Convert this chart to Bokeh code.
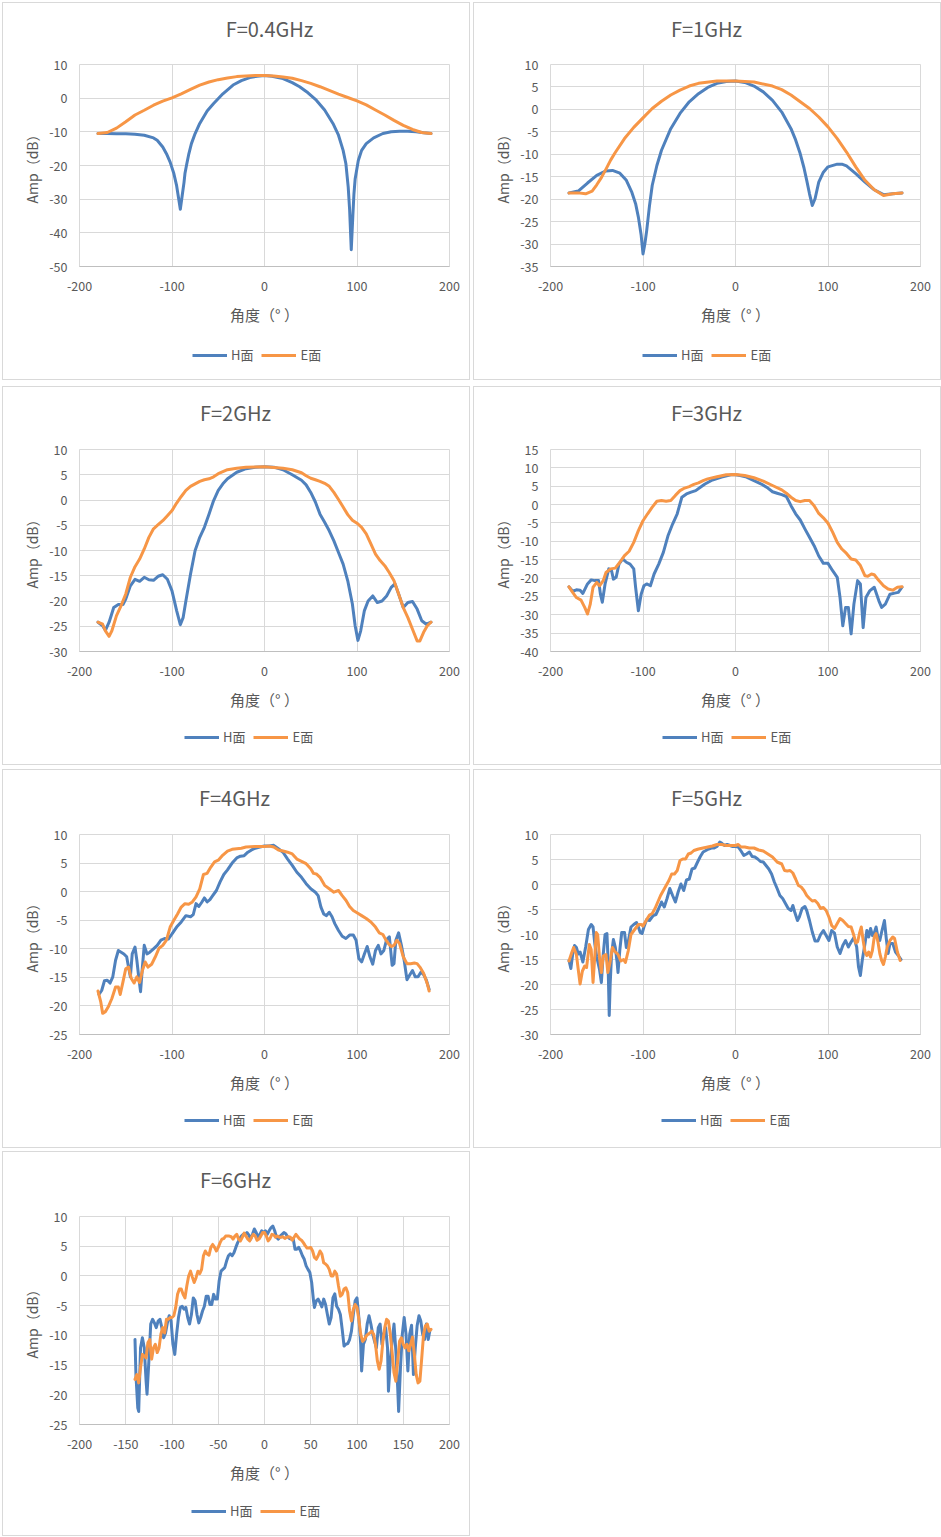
from bokeh.plotting import figure
from bokeh.layouts import column, row
from bokeh.models import Legend, LegendItem, FixedTicker, Range1d, Spacer, Label
from bokeh.embed import file_html
from bokeh.resources import INLINE

# F = 0.4 GHz
ang1h = [-180,-170,-160,-150,-140,-130,-120,-116,-110,-106,-102,-98,-95,-93,-91,-89,-87,-86,-84,-82,
         -79,-75,-70,-62,-55,-45,-34,-25,-16,-8,0,8,20,30,38,47,56,65,74,80,
         85,88,90.5,92,93.8,95.5,96.7,98,101.4,105,110,118,128,137,146,155,164,172,180]
amp1h = [-10.5,-10.5,-10.6,-10.6,-10.7,-11.0,-11.8,-12.5,-14.5,-16.5,-19.0,-22.4,-26.0,-29.5,-33.0,-29.0,-25.0,-22.4,-19.5,-16.8,
         -13.5,-10.5,-7.5,-3.8,-1.6,1.3,3.9,5.2,6.1,6.5,6.7,6.5,5.8,4.6,3.4,1.6,-0.6,-3.5,-7.5,-11.0,
         -15.5,-19.5,-26.4,-33.0,-45.0,-35.0,-28.4,-24.0,-18.5,-15.5,-13.5,-11.8,-10.5,-10.0,-9.8,-9.8,-10.0,-10.3,-10.5]
ang1e = [-180,-170,-160,-150,-140,-130,-120,-110,-100,-90,-80,-70,-60,-50,-40,-30,-20,-10,0,
         10,20,30,40,50,60,70,80,90,100,110,120,130,140,150,160,170,180]
amp1e = [-10.5,-10.2,-8.9,-7.0,-5.0,-3.6,-2.1,-0.9,0.1,1.3,2.6,3.85,4.8,5.5,6.0,6.4,6.6,6.7,6.7,
         6.6,6.3,5.9,5.2,4.4,3.4,2.3,1.2,0.2,-0.8,-2.0,-3.5,-5.0,-6.6,-8.1,-9.3,-10.2,-10.5]

# F = 1 GHz
ang2h = [-180,-170,-160,-150,-140,-133,-125,-118,-112,-108,-105,-102,-100,-98,-96,-93,-90,-85,-80,-70,
         -60,-50,-40,-30,-20,-10,0,10,20,30,40,50,60,65,70,74,77,80,83,86,
         90,95,100,110,115,120,130,140,150,160,170,180]
amp2h = [-18.6,-18.2,-16.4,-14.7,-13.7,-13.6,-14.2,-15.8,-18.5,-21.0,-24.0,-28.0,-32.2,-30.0,-27.0,-21.5,-16.9,-12.5,-9.1,-4.3,
         -0.9,1.7,3.5,4.9,5.8,6.2,6.3,6.0,5.2,3.9,2.0,-0.6,-4.3,-6.8,-9.9,-13.0,-15.8,-18.8,-21.4,-19.9,
         -16.2,-14.0,-12.8,-12.2,-12.2,-12.6,-14.3,-16.2,-17.9,-19.0,-18.8,-18.6]
ang2e = [-180,-170,-162,-155,-150,-145,-140,-135,-130,-120,-110,-100,-90,-80,-70,-60,-50,-40,-20,0,
         20,40,50,60,70,80,90,100,110,120,130,140,150,160,170,180]
amp2e = [-18.6,-18.6,-18.8,-18.2,-16.8,-15.2,-13.3,-11.3,-9.6,-6.5,-4.0,-1.9,0.2,1.8,3.2,4.3,5.2,5.8,6.3,6.35,
         6.1,5.2,4.4,3.2,1.7,0.2,-1.7,-3.9,-6.5,-9.5,-12.8,-15.8,-17.9,-19.2,-18.8,-18.6]

# F = 2 GHz
ang3h = [-180,-175,-172,-168,-163,-158,-153,-150,-145,-140,-135,-130,-125,-120,-115,-110,-105,-100,-95,-91,
         -88,-85,-80,-75,-70,-65,-60,-55,-50,-45,-40,-30,-20,-10,0,10,20,30,40,45,
         50,55,60,65,70,75,80,85,90,95,98,101,104,108,112,117,122,127,132,137,
         141,145,150,155,160,165,170,175,180]
amp3h = [-24.2,-24.9,-25.8,-24.2,-21.3,-20.7,-20.7,-19.6,-17.0,-15.7,-16.1,-15.3,-15.8,-15.9,-15.1,-14.8,-15.7,-18.0,-21.9,-24.7,
         -23.3,-20.0,-14.7,-10.0,-7.4,-5.4,-2.8,-0.1,1.9,3.2,4.2,5.5,6.2,6.5,6.6,6.5,6.0,5.0,3.9,3.0,
         1.5,-0.4,-2.8,-4.4,-6.1,-8.1,-10.4,-12.7,-16.0,-20.6,-24.9,-27.8,-25.9,-21.9,-20.0,-19.0,-20.3,-20.0,-19.0,-17.3,
         -16.6,-18.6,-21.3,-20.3,-20.1,-21.6,-23.9,-24.6,-24.2]
ang3e = [-180,-175,-172,-168,-165,-160,-155,-150,-145,-140,-135,-130,-125,-120,-115,-110,-105,-100,-95,-90,
         -85,-80,-75,-70,-65,-60,-55,-50,-45,-40,-30,-20,0,20,30,40,45,50,55,60,
         65,70,75,80,85,90,95,100,105,110,115,120,125,130,135,140,145,150,155,160,
         165,168,172,176,180]
amp3e = [-24.2,-24.6,-25.9,-27.0,-25.9,-22.9,-20.9,-18.6,-15.3,-13.2,-11.7,-9.7,-7.4,-5.7,-4.9,-4.1,-3.1,-2.1,-0.6,0.7,
         1.9,2.7,3.2,3.7,4.0,4.2,4.6,5.2,5.6,6.0,6.3,6.5,6.6,6.3,6.0,5.4,4.8,4.3,4.0,3.7,
         3.3,2.7,1.5,0.1,-1.4,-2.9,-4.0,-4.6,-5.4,-6.7,-8.7,-10.7,-12.0,-13.0,-14.4,-16.0,-18.6,-21.3,-23.3,-25.6,
         -27.9,-27.9,-26.2,-24.9,-24.2]

# F = 3 GHz
ang4h = [-180,-176,-172,-168,-165,-160,-156,-152,-148,-146,-144,-141,-137,-134,-132,-129,-126,-122,-118,-114,
         -110,-108,-105,-102,-99,-96,-92,-88,-83,-78,-73,-68,-63,-58,-53,-48,-43,-38,-33,-25,
         -15,-5,0,5,12,20,28,35,40,45,50,55,60,65,70,75,80,85,90,95,
         100,105,110,113,116,119,122,125,128,132,135,138,141,145,150,155,158,162,167,172,176,180]
amp4h = [-22.4,-23.6,-23.2,-23.3,-24.2,-21.6,-20.5,-20.7,-20.7,-24.4,-26.6,-21.6,-17.5,-18.0,-20.3,-19.8,-16.2,-14.8,-15.7,-16.2,
         -17.5,-22.5,-28.9,-24.4,-22.1,-21.6,-22.1,-18.9,-16.2,-13.0,-8.5,-5.3,-2.5,2.0,2.9,3.4,3.8,4.7,5.6,6.7,
         7.5,8.1,8.1,7.9,7.5,6.5,5.6,4.5,3.5,3.1,2.7,2.2,-0.3,-2.5,-4.2,-6.6,-8.9,-11.2,-14.0,-16.0,
         -16.0,-18.0,-19.8,-25.3,-33.0,-28.0,-28.0,-35.2,-27.1,-20.7,-21.6,-33.5,-25.3,-23.5,-22.5,-26.2,-28.0,-27.1,-24.4,-24.1,-23.9,-22.5]
ang4e = [-180,-176,-172,-167,-163,-160,-157,-154,-150,-147,-143,-140,-135,-130,-125,-120,-115,-110,-105,-100,
         -95,-90,-85,-80,-75,-70,-65,-60,-55,-50,-45,-40,-35,-30,-20,-10,0,10,20,30,
         40,50,55,60,65,70,75,80,85,90,95,100,105,110,115,120,125,130,135,140,
         143,147,150,155,160,165,170,175,180]
amp4e = [-22.4,-23.9,-25.3,-26.0,-28.0,-29.8,-27.1,-22.5,-21.2,-22.1,-20.7,-18.5,-17.5,-17.3,-15.7,-13.9,-12.7,-10.3,-7.1,-4.4,
         -2.5,-0.7,0.9,1.1,0.9,1.1,2.5,3.8,4.5,4.9,5.5,5.9,6.5,7.0,7.6,8.1,8.2,7.9,7.3,6.4,
         5.2,4.0,3.1,2.0,1.1,0.8,1.1,1.1,-0.3,-2.4,-3.6,-5.1,-7.5,-10.3,-12.1,-13.3,-14.8,-15.1,-16.6,-19.4,
         -19.5,-18.9,-19.1,-20.7,-22.1,-23.0,-23.3,-22.5,-22.4]

# F = 4 GHz
ang5h = [-179,-176,-173,-170,-167,-164,-161,-158,-155,-152,-149,-147,-145,-143,-140,-138,-136,-134,-132,-130,
         -127,-124,-120,-116,-112,-108,-104,-100,-95,-90,-85,-80,-77,-74,-71,-68,-65,-62,-59,-56,
         -52,-48,-44,-40,-35,-30,-26,-22,-18,-14,-10,-5,0,5,10,15,20,25,30,35,
         40,45,50,55,58,61,64,67,70,73,76,80,84,88,92,96,99,102,105,108,
         111,114,117,120,123,126,129,132,135,138,140,142,145,148,151,154,157,160,163,166,
         169,172,175,178]
amp5h = [-18.0,-17.3,-15.6,-15.5,-16.0,-14.9,-12.0,-10.3,-10.6,-10.9,-11.4,-13.2,-14.9,-10.9,-9.7,-12.0,-14.9,-17.5,-13.2,-9.4,
         -10.9,-10.6,-10.0,-9.4,-8.5,-8.2,-8.3,-7.4,-6.2,-5.3,-4.2,-4.4,-4.0,-2.1,-2.6,-1.9,-1.1,-1.8,-1.4,-0.7,
         0.2,1.7,3.0,3.8,5.0,5.9,6.2,6.3,6.9,7.3,7.6,7.8,8.0,8.0,8.1,7.5,6.9,5.7,4.6,3.4,
         2.5,1.4,0.5,-0.1,-0.7,-2.7,-3.9,-4.2,-3.6,-4.4,-5.6,-6.8,-7.8,-8.2,-7.6,-7.6,-8.5,-11.7,-12.3,-10.9,
         -9.6,-11.4,-12.7,-10.3,-9.4,-10.9,-10.3,-8.4,-7.9,-12.9,-12.6,-8.5,-7.2,-9.4,-12.0,-15.4,-14.6,-13.8,-14.9,-14.9,
         -14.1,-14.5,-15.5,-17.1]
ang5e = [-180,-177,-175,-172,-169,-165,-161,-158,-156,-153,-150,-147,-144,-141,-138,-135,-132,-129,-126,-122,
         -118,-114,-110,-106,-102,-98,-94,-90,-86,-82,-78,-74,-70,-66,-62,-58,-54,-50,-45,-40,
         -35,-30,-25,-20,-10,0,5,10,15,20,25,30,35,40,45,50,53,56,60,65,
         70,75,80,84,88,92,96,100,105,110,115,120,124,128,131,134,137,140,143,146,
         150,154,158,162,165,168,172,176,178]
amp5e = [-17.4,-19.3,-21.3,-21.0,-20.2,-18.7,-16.7,-16.7,-18.0,-15.8,-13.5,-13.2,-15.2,-16.0,-14.9,-15.9,-13.8,-12.3,-13.2,-12.7,
         -11.4,-9.9,-9.4,-8.5,-6.2,-5.0,-3.9,-2.7,-2.1,-2.2,-1.8,-0.9,0.5,3.0,3.2,4.3,5.2,5.5,6.4,7.1,
         7.4,7.5,7.6,7.8,7.9,7.9,8.0,7.8,7.3,7.1,6.9,6.6,5.7,5.3,4.9,4.0,3.2,3.1,2.5,1.1,
         0.5,-0.1,0.2,-0.7,-1.5,-2.6,-3.3,-3.7,-4.2,-4.7,-5.3,-6.2,-7.2,-7.5,-8.4,-9.1,-9.6,-9.4,-8.5,-9.1,
         -11.4,-12.6,-12.6,-12.5,-12.6,-13.2,-14.3,-16.1,-17.4]

# F = 5 GHz
ang6h = [-180,-178,-176,-174,-172,-170,-168,-165,-162,-159,-156,-154,-152,-150,-147,-145,-143,-141,-139,-138,
         -137,-136.5,-135.5,-134,-132,-130,-128,-127,-125,-123,-120,-118,-116,-113,-110,-107,-105,-103,-101,-99,
         -96,-93,-89,-86,-83,-80,-77,-74,-71,-68,-65,
         -62,-59,-56,-53,-50,-47,-44,-41,-38,-35,-32,-29,-26,-23,-20,-17,-15,-12,-9,-6,
         -3,0,3,6,9,12,15,18,21,24,27,30,33,36,39,42,45,48,51,54,
         57,60,62,64,67,69,72,75,77,80,83,86,89,92,95,98,101,104,107,110,
         113,116,119,122,125,128,131,133,135,137,140,142,144,146,148,150,152,154,156,158,
         161,163,165,167,170,173,176,179]
amp6h = [-15.2,-16.8,-13.9,-12.2,-12.6,-13.9,-13.5,-15.5,-12.5,-9.0,-8.0,-8.5,-12.0,-14.5,-17.0,-19.6,-14.0,-10.0,-9.8,-14.0,
         -22.0,-26.2,-20.0,-14.0,-11.0,-12.5,-15.5,-17.6,-13.0,-9.6,-9.6,-12.6,-11.5,-8.5,-8.0,-7.6,-8.5,-9.6,-9.8,-8.5,
         -7.0,-7.2,-6.2,-6.0,-4.8,-3.5,-4.5,-2.8,-0.8,-2.2,-3.5,
         -1.5,0.1,-1.2,0.9,1.1,3.1,3.3,4.5,5.6,6.5,6.8,7.1,7.3,7.3,7.6,8.5,8.3,7.8,8.0,7.8,
         7.6,7.6,7.5,6.7,5.8,6.1,6.5,5.6,5.5,5.1,4.6,4.5,3.8,3.1,2.1,0.5,-0.8,-2.2,-2.8,-3.8,
         -4.8,-5.2,-4.2,-5.5,-7.2,-6.5,-4.8,-4.4,-5.2,-7.2,-9.5,-11.3,-11.3,-10.0,-9.2,-10.2,-11.2,-9.2,-9.7,-12.5,
         -13.8,-12.2,-11.2,-12.5,-11.5,-10.6,-12.5,-16.5,-18.2,-15.2,-11.8,-9.2,-10.5,-8.8,-10.2,-9.7,-8.5,-10.6,-11.2,-9.5,
         -7.2,-10.8,-13.8,-11.8,-11.8,-13.5,-14.2,-15.0]
ang6e = [-180,-177,-175,-172,-170,-168,-165.5,-163,-161,-158,-156,-154,-152,-150.5,-149,-147,-145,-143,-140,-138,
         -136,-133,-131,-127,-124,-121,-119,-116,-113,-109,-105,-102,-100,-96,-93,-90,-87,
         -84,-81,-78,-75,-72,-69,-66,-63,-60,-57,
         -54,-51,-48,-45,-40,-35,-30,-25,-20,-15,
         -10,-5,0,3,6,10,15,20,25,30,
         35,40,45,50,53,56,59,62,65,68,
         71,74,77,80,83,86,89,92,95,98,
         101,104,107,110,113,116,119,122,125,128,
         130,132,134,136,138,140,142,144,146,148,
         150,152,154,156,158,160,162,164,167,170,
         172,175,178]
amp6e = [-15.3,-13.6,-12.6,-14.0,-17.0,-19.9,-17.3,-16.3,-16.6,-12.0,-13.0,-19.6,-14.0,-9.6,-10.0,-14.6,-17.6,-14.3,-14.0,-17.6,
         -15.9,-12.6,-13.3,-14.0,-15.3,-15.0,-15.6,-13.3,-10.0,-9.0,-8.0,-8.0,-8.3,-7.0,-6.1,-5.8,-4.8,
         -3.5,-2.2,-1.2,-0.2,0.8,2.1,2.1,2.8,4.8,5.1,
         5.1,6.1,6.3,6.8,7.1,7.3,7.5,7.7,8.0,8.0,
         7.8,7.8,7.8,8.0,7.5,7.5,7.3,7.3,6.9,6.7,
         6.1,5.5,4.5,4.1,2.8,2.7,2.8,2.3,1.1,-0.2,
         -0.5,-1.2,-2.2,-2.8,-3.3,-3.2,-3.8,-4.8,-4.6,-5.2,
         -6.5,-8.2,-8.8,-7.8,-6.8,-7.2,-7.8,-8.4,-8.5,-10.2,
         -11.7,-11.5,-9.8,-8.5,-11.2,-13.5,-14.2,-13.5,-14.5,-13.2,
         -10.5,-9.8,-11.5,-13.8,-15.2,-16.0,-14.5,-12.5,-11.2,-10.5,
         -10.8,-13.5,-15.2]

# F = 6 GHz
ang7h = [-140,-139,-137,-136,-134,-132,-130,-128,-127,-125,-123,-121,-119,-117,-115,-113,-111,-109,-107,-105,
         -103,-101,-99,-97,-95,-93,-91,-89,-87,-85,-83,-81,-79,-77,-75,-73,-71,-69,-67,-65,
         -63,-61,-59,-57,-55,-53,-51,-49,-47,-45,-43,-41,-39,-37,-35,-33,-31,-29,-27,-25,
         -23,-21,-19,-17,-15,-13,-11,-9,-7,-5,-3,-1,1,3,5,7,9,11,13,15,
         17,19,21,23,25,27,29,31,33,35,37,39,41,43,45,47,49,51,53,54,
         56,58,60,62,64,66,68,70,72,74,76,78,80,82,84,86,88,90,92,94,
         96,98,100,102,104,105,107,109,111,113,115,117,119,121,123,125,127,129,131,133,
         134,136,138,140,142,144,145,147,149,151,153,155,157,159,161,163,165,167,169,171,
         173,175,177,179]
amp7h = [-10.7,-16.6,-22.2,-22.8,-12.1,-10.4,-12.1,-17.7,-19.9,-14.3,-8.1,-7.3,-7.9,-8.7,-7.6,-7.3,-8.7,-10.4,-9.6,-7.9,
         -6.7,-7.6,-11.5,-13.2,-9.8,-7.0,-5.3,-5.1,-5.6,-5.3,-7.0,-8.1,-6.5,-3.7,-4.2,-6.5,-7.9,-7.0,-5.9,-5.1,
         -3.4,-3.4,-4.8,-4.8,-3.1,-3.9,-3.9,-0.8,0.8,1.1,1.4,2.5,3.4,3.7,3.4,3.9,4.8,5.6,6.2,6.7,
         7.0,7.0,7.3,6.9,6.2,7.0,7.9,7.3,6.6,7.0,7.6,7.3,7.6,7.0,7.6,8.1,8.4,7.6,6.5,6.2,
         6.7,7.0,7.3,7.1,6.6,6.3,6.2,6.3,4.5,4.5,4.8,4.2,3.4,2.8,1.7,1.1,0.6,-1.1,-4.2,-5.3,
         -4.2,-3.9,-4.5,-5.2,-3.9,-4.8,-6.5,-8.1,-7.0,-3.7,-3.0,-5.1,-5.6,-6.5,-9.0,-11.8,-11.5,-11.4,-10.7,-9.3,
         -6.5,-4.2,-3.7,-7.0,-11.5,-16.0,-11.5,-10.7,-8.1,-6.7,-8.1,-9.8,-11.0,-12.1,-8.7,-8.1,-11.5,-9.8,-8.7,-12.1,
         -19.4,-14.3,-11.0,-8.1,-12.6,-18.8,-22.8,-15.4,-9.8,-7.0,-9.8,-16.0,-9.8,-8.3,-16.6,-12.1,-8.4,-6.7,-7.6,-9.8,
         -10.7,-8.1,-10.7,-9.0]
ang7e = list(range(-140, 181, 2))
amp7e = [-17.4,-16.6,-18.0,-15.4,-13.2,-13.5,-13.8,-11.2,-10.7,-14.0,
         -12.1,-11.5,-12.9,-12.1,-9.8,-8.7,-9.6,-7.3,-7.3,-7.0,
         -7.0,-6.7,-5.3,-3.1,-2.2,-2.2,-3.1,-3.7,-1.7,0.0,
         0.8,-0.2,-1.1,-0.3,0.8,0.4,1.1,3.4,4.2,3.7,
         3.5,4.8,5.3,4.8,4.2,4.8,5.6,6.2,6.3,6.7,
         6.7,6.7,6.6,6.2,6.7,7.0,6.2,5.9,6.5,7.2,
         6.7,6.2,5.9,6.5,7.0,6.7,6.0,6.2,6.7,7.3,
         7.3,6.7,5.9,6.3,7.0,6.9,6.5,6.7,6.5,6.5,
         6.6,6.3,6.5,6.6,6.5,6.0,6.5,7.0,6.6,6.2,
         6.0,5.6,5.1,4.7,4.7,4.8,4.2,3.1,2.8,3.4,
         4.2,3.7,2.2,2.0,1.7,1.1,0.0,0.0,0.8,0.3,
         -1.7,-3.4,-3.1,-2.2,-2.0,-2.8,-5.9,-7.6,-5.6,-4.8,
         -5.3,-7.3,-9.8,-11.0,-10.7,-10.1,-9.8,-9.6,-9.3,-9.8,
         -11.5,-14.3,-15.7,-14.3,-11.0,-8.7,-7.3,-7.6,-9.8,-12.9,
         -16.3,-17.7,-14.3,-11.0,-10.4,-11.5,-12.1,-11.5,-12.6,-11.5,
         -10.3,-13.2,-16.6,-18.0,-17.7,-13.8,-9.8,-8.4,-8.1,-9.3,
         -9.0]

titles = ["F=0.4GHz", "F=1GHz", "F=2GHz", "F=3GHz", "F=4GHz", "F=5GHz", "F=6GHz"]
y_ranges = [(-50, 10), (-35, 10), (-30, 10), (-40, 15), (-25, 10), (-30, 10), (-25, 10)]
y_steps = [10, 5, 5, 5, 5, 5, 5]
x_steps = [100, 100, 100, 100, 100, 100, 50]
series_names = ["H面", "E面"]
x_label = "角度（° ）"
y_label = "Amp（dB）"

ALL = [(ang1h, amp1h, ang1e, amp1e), (ang2h, amp2h, ang2e, amp2e), (ang3h, amp3h, ang3e, amp3e),
       (ang4h, amp4h, ang4e, amp4e), (ang5h, amp5h, ang5e, amp5e), (ang6h, amp6h, ang6e, amp6e),
       (ang7h, amp7h, ang7e, amp7e)]
for d in ALL:
    assert len(d[0]) == len(d[1]) and len(d[2]) == len(d[3])

FONT = "Noto Sans CJK SC"
TXT = "#595959"
BLUE = "#4F81BD"
ORANGE = "#F79646"
GRID = "#d9d9d9"
LEG_H = 40
FRAME_L = 76   # left border of every chart area inside its panel

# (title strip height, top border, frame height, bottom border, legend centre below frame) per row
ROWCFG = [(50, 61, 202, 113, 89), (50, 62, 202, 113, 86), (54, 64, 200, 113, 86), (54, 64, 208, 111, 87)]
LEG_X = [189, 168, 181, 188, 181, 187, 188]      # legend left edge inside panel
TITLE_X = [266, 232, 232, 232, 231, 232, 232]    # title centre inside panel


def make_panel(i, cfg):
    th, top, fh, bot, legc = cfg
    ymin, ymax = y_ranges[i]
    mbot = bot - LEG_H
    ah, h, ae, e = ALL[i]

    # title strip
    ts = figure(width=466, height=th, x_axis_type=None, y_axis_type=None,
                x_range=Range1d(0, 1), y_range=Range1d(0, 1), min_border=0,
                output_backend="svg", toolbar_location=None)
    ts.outline_line_color = None
    ts.background_fill_color = "white"
    ts.border_fill_color = "white"
    ts.add_layout(Label(x=TITLE_X[i] - FRAME_L, y=th / 2, x_units="screen", y_units="screen",
                        text=titles[i], text_align="center", text_baseline="middle",
                        text_font=FONT, text_font_size="20px", text_color=TXT))

    # chart
    p = figure(width=466, height=(top - th) + fh + mbot,
               x_range=Range1d(-200, 200), y_range=Range1d(ymin, ymax),
               min_border_left=FRAME_L, min_border_right=20, min_border_top=top - th, min_border_bottom=mbot,
               output_backend="svg", toolbar_location=None)
    p.background_fill_color = "white"
    p.border_fill_color = "white"
    p.outline_line_color = GRID

    xt = list(range(-200, 201, x_steps[i]))
    yt = list(range(ymin, ymax + 1, y_steps[i]))
    p.xaxis.ticker = FixedTicker(ticks=xt)
    p.yaxis.ticker = FixedTicker(ticks=yt)
    p.xaxis.major_label_overrides = {t: str(t) for t in xt}
    p.yaxis.major_label_overrides = {t: str(t) for t in yt}
    for ax in (p.xaxis, p.yaxis):
        ax.major_tick_line_color = None
        ax.minor_tick_line_color = None
        ax.major_label_text_font = FONT
        ax.major_label_text_font_size = "12.5px"
        ax.major_label_text_color = TXT
        ax.axis_label_text_font = FONT
        ax.axis_label_text_font_style = "normal"
        ax.axis_label_text_color = TXT
    p.xaxis.axis_line_color = "#bfbfbf"
    p.yaxis.axis_line_color = None
    p.xaxis.major_label_standoff = 8
    p.yaxis.major_label_standoff = 6
    p.xaxis.axis_label = x_label
    p.yaxis.axis_label = y_label
    p.xaxis.axis_label_text_font_size = "15px"
    p.yaxis.axis_label_text_font_size = "14px"
    p.xaxis.axis_label_standoff = 10
    p.yaxis.axis_label_standoff = 4
    p.xgrid.grid_line_color = GRID
    p.ygrid.grid_line_color = GRID

    p.line(ah, h, line_color=BLUE, line_width=3, line_join="round", line_cap="round")
    p.line(ae, e, line_color=ORANGE, line_width=3, line_join="round", line_cap="round")

    # legend strip (its ranges are far from the data, so only the legend shows)
    lg = figure(width=466, height=LEG_H, x_axis_type=None, y_axis_type=None,
                x_range=Range1d(1000, 1001), y_range=Range1d(1000, 1001), min_border=0,
                output_backend="svg", toolbar_location=None)
    lg.outline_line_color = None
    lg.background_fill_color = "white"
    lg.border_fill_color = "white"
    kh = lg.line(ah, h, line_color=BLUE, line_width=3)
    ke = lg.line(ae, e, line_color=ORANGE, line_width=3)
    legend = Legend(items=[LegendItem(label=series_names[0], renderers=[kh]),
                           LegendItem(label=series_names[1], renderers=[ke])],
                    orientation="horizontal", location=(LEG_X[i] - FRAME_L, bot - legc - 9),
                    border_line_color=None, background_fill_alpha=0,
                    label_text_font=FONT, label_text_font_size="13px", label_text_color=TXT,
                    glyph_width=35, glyph_height=14, label_standoff=4, spacing=8,
                    padding=0, margin=0)
    lg.add_layout(legend)
    return column(ts, p, lg, spacing=0, styles={"border": "1px solid #d9d9d9"})


panels = [make_panel(i, ROWCFG[[0, 0, 1, 1, 2, 2, 3][i]]) for i in range(7)]

layout = column(
    row(panels[0], panels[1], spacing=3),
    Spacer(height=6),
    row(panels[2], panels[3], spacing=3),
    Spacer(height=4),
    row(panels[4], panels[5], spacing=3),
    Spacer(height=3),
    row(panels[6]),
    spacing=0,
    margin=(2, 0, 0, 2),
)

open("out.html", "w").write(file_html(layout, INLINE))
